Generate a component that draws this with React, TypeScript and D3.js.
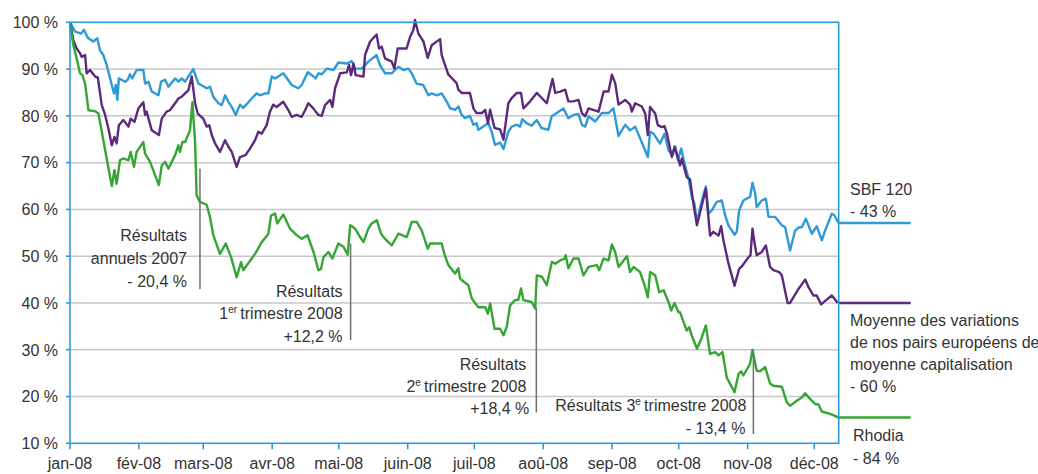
import React from "react";
import * as d3 from "d3";

// ---- data ----
const monthLabels = ["jan-08", "fév-08", "mars-08", "avr-08", "mai-08", "juin-08", "juil-08", "aoû-08", "sep-08", "oct-08", "nov-08", "déc-08"];
const yTickValues = [10, 20, 30, 40, 50, 60, 70, 80, 90, 100];

// days elapsed since 1 Jan 2008
const sbfDays = [0, 2.3, 5, 6.3, 8, 10.5, 12.3, 13.5, 15, 16.5, 18.8, 19.8, 20.6, 21.3, 22, 24.8, 26, 27, 28, 30, 33, 33.8, 35.3, 36.8, 39.8, 41, 42.8, 44.3, 47.3, 48.8, 50.3, 51.8, 55.5, 57.8, 61.5, 63, 64.5, 66.8, 68.3, 69.8, 71.3, 72.8, 74.6, 76.5, 78, 81.8, 84, 85.5, 87.8, 89.3, 90.8, 92.3, 96, 99.8, 102.8, 104.3, 107, 108.8, 110.6, 111.8, 113.3, 115.6, 118.6, 120.8, 124.6, 126.8, 128.3, 131.3, 134.3, 138, 139.5, 141.8, 144.8, 146.3, 147.8, 150.1, 152.3, 153.8, 156, 159, 161.3, 162.8, 165.1, 167.3, 169.6, 171.1, 173.3, 174.8, 176.3, 177.8, 180, 181.6, 183, 183.8, 186, 188.3, 189.8, 191.3, 193.6, 195.1, 197.3, 198.8, 201.1, 202.6, 203.6, 205.6, 207.8, 210.1, 212.3, 215.3, 216.8, 219.1, 222.1, 224.3, 226.6, 228.9, 230.4, 231.9, 233.4, 236.4, 239.4, 242.4, 244.6, 246.9, 249.9, 252.1, 254.4, 257.4, 260.1, 261.1, 262.6, 265.6, 267.6, 269.4, 271.2, 272.4, 273.6, 275.1, 276.6, 278.4, 279.9, 281.1, 282.2, 284.4, 286.2, 287.4, 288.9, 291.1, 293.4, 294.9, 296.4, 299.1, 300.1, 301.2, 303.1, 306.1, 307.2, 308.4, 309.1, 311.4, 313.2, 314.4, 317.4, 320.4, 321.9, 324.1, 326.4, 328.2, 329.4, 331.2, 332.4, 333.9, 336.1, 338.4, 339.9, 342.9, 344.1, 345.9];
const sbfValues = [100, 98, 97.6, 98.4, 96.7, 95.9, 96.6, 94, 93, 90.9, 86.6, 84.8, 86.6, 83.4, 88, 87.3, 87.7, 88.9, 88, 89.8, 89.8, 86.9, 87.3, 85.2, 84.4, 87.3, 87.7, 86.2, 88, 87.3, 88, 87.3, 90, 86.9, 85.9, 86.2, 84.1, 82.7, 82.3, 84.4, 83, 81.9, 80.2, 82.4, 81.7, 83.7, 84.8, 84.4, 84.8, 84.8, 88.4, 88, 89.1, 86.6, 85.9, 86.6, 89.3, 88.7, 88, 89.1, 88.9, 90.1, 89.8, 91.4, 91.2, 91.7, 90.1, 90.1, 91.6, 93, 90.9, 89.1, 89.1, 89.8, 90.5, 89.8, 90.1, 89.1, 86.9, 86.6, 84.4, 84.8, 84.4, 84.8, 83, 81.6, 81.3, 82, 80.2, 79.5, 80, 78.1, 78.4, 77, 77.7, 78.4, 76.6, 73.8, 74.3, 72.9, 76.6, 77.7, 78.1, 77.7, 79.3, 78.4, 77.9, 79.1, 77.4, 77, 79.9, 80.6, 81.6, 79.5, 80.2, 80.4, 78.1, 77.7, 79.9, 78.8, 80.6, 80.6, 81.6, 75.7, 78.1, 76.9, 77.7, 74.3, 71.2, 76.6, 76.2, 74.1, 76.2, 72.6, 71.6, 73.4, 70.5, 73, 69.8, 66.6, 62.7, 61.2, 57.3, 61.9, 64.9, 59.1, 59.8, 61.6, 61.9, 58.7, 56.6, 54.6, 55.2, 59.8, 61.9, 62.7, 65.7, 63.4, 60.5, 61.9, 62.3, 58.4, 58.4, 56.6, 56.2, 51.2, 55.5, 56.2, 56.2, 58, 56.6, 54.8, 56.4, 53.4, 55.5, 59.1, 58.7, 57.1];

const peersDays = [0, 1.5, 3, 4.5, 5.3, 6.8, 7.5, 9, 11.3, 12.5, 14.3, 15.8, 17.3, 18.8, 20, 21, 22, 24, 26.3, 27.3, 29, 30.8, 33, 33.8, 34.5, 36.8, 40, 41.3, 43.5, 45, 47.3, 48.8, 50.3, 53.3, 54.8, 56.3, 57.5, 60, 61.5, 62.7, 63.8, 65.3, 67.5, 69.8, 71.3, 72.8, 75, 76.5, 79, 81, 83.3, 84.8, 86.3, 88.5, 90, 91.5, 93, 96, 98.3, 99.8, 102, 104.3, 105.8, 107.3, 109.5, 111.8, 113.3, 114.8, 117.1, 118.1, 119.3, 121.6, 124.6, 125.6, 126.5, 127.6, 128.6, 132.1, 132.8, 135.1, 138, 139.1, 140.3, 141.8, 144.8, 146, 147.5, 151.5, 153.1, 154.6, 155.3, 156.8, 159.1, 161, 162.8, 166.6, 167.3, 168.8, 170.3, 171.8, 174, 174.8, 176.3, 180, 181.6, 183, 185.4, 186.9, 188.1, 189.1, 191.1, 193.6, 195.1, 197.3, 198.8, 201.1, 203, 204.1, 207.1, 210.1, 214.6, 217.2, 218.4, 220.6, 222.9, 224.3, 226.6, 228.9, 230.4, 231.9, 233.4, 237.9, 240.2, 242.4, 243.9, 245.4, 246.9, 249.9, 252.1, 252.9, 254.4, 257.4, 258.9, 260.1, 261.1, 263.4, 264.6, 266.4, 267.6, 268.7, 270.9, 272.1, 273.6, 274.6, 275.4, 277.6, 279.1, 280.6, 282.2, 284.4, 286.2, 288.1, 289.6, 291.9, 293.1, 294.1, 296.4, 299.1, 301.2, 302.7, 305.4, 306.3, 307.2, 308.4, 309.1, 311.4, 313.2, 315.1, 316.6, 319.2, 320.4, 323, 324.1, 327.9, 330.9, 332.4, 334.6, 336.1, 338.1, 340.6, 342.9, 345.6];
const peersValues = [100, 96.2, 94.4, 93.4, 92.6, 93, 89.1, 89.8, 88.4, 88.2, 82.3, 80.2, 77.3, 73.7, 75.5, 74.1, 78, 79.1, 77.7, 79.4, 78.7, 81.6, 82.9, 80.2, 80.9, 76.9, 75.9, 79.4, 80.9, 81.2, 82.7, 83.7, 84.1, 85.5, 88.4, 82.7, 80.5, 79.4, 77.7, 78, 75.9, 74.1, 72.3, 74.8, 73.4, 72.3, 69.1, 71.2, 71.6, 73, 74.8, 76.6, 76.2, 78, 80.9, 82.4, 81.9, 83, 81.2, 79.8, 80.2, 79.8, 81.2, 82.7, 81.6, 80.2, 80, 82.3, 83.4, 81.9, 85.9, 89.1, 89.3, 90.9, 88.7, 91.2, 88.7, 88.4, 93, 95.9, 97.4, 94.4, 94.8, 92.3, 91.6, 90.1, 94.4, 94.4, 96.9, 98.4, 100.5, 97.6, 95.9, 92.4, 95.1, 96.4, 93, 90.9, 88.8, 88.1, 87, 85.6, 84.9, 84.9, 81.6, 80.6, 80.6, 81.3, 78.4, 81.3, 77.4, 77.1, 74.9, 82.7, 83.8, 84.9, 84.9, 81.6, 83.1, 84.9, 82.7, 87.9, 84.9, 85.2, 85.6, 83.1, 83.1, 83.4, 80.6, 79.9, 81.6, 80.9, 85.2, 85.2, 88.8, 87, 82.4, 83.4, 82.4, 80.9, 82.7, 82, 80.5, 75.9, 81.9, 80.5, 78, 77.6, 77.8, 76.2, 71.2, 73.4, 71.2, 69.4, 70.9, 66.9, 66.4, 61.2, 56.6, 60.9, 64.4, 54.4, 55.2, 54.4, 56.4, 53.4, 48.4, 43.7, 47.3, 48, 49.8, 50.2, 55.9, 52, 50.2, 50.9, 52.3, 47.7, 47, 46.6, 45.9, 40, 40, 43, 45, 43.4, 41.6, 41.6, 39.7, 40.7, 41.6, 40];

const rhodiaDays = [0, 1.5, 3, 4.5, 5.6, 6.8, 8.3, 11.3, 12.8, 14.3, 18.8, 20, 21, 22.5, 24, 26.3, 27.3, 28.8, 30, 33, 33.8, 36, 40, 41.3, 42.8, 44.3, 47.3, 48.8, 49.5, 50.6, 51.8, 54, 55.1, 56.3, 57, 58.5, 61.5, 63, 64.5, 67.5, 70.1, 72.5, 75, 77, 78, 81.8, 83.3, 86.3, 89.3, 90.5, 92.3, 93.3, 96, 99, 102, 104.3, 106.9, 109.6, 111.8, 113, 114.1, 116.3, 118.1, 120.8, 123.1, 125, 126.1, 128.3, 130.6, 132.1, 134.3, 135.8, 138.1, 140, 141.8, 144.8, 147.8, 151.6, 153.8, 156.1, 158.3, 161, 162.1, 167.3, 168.5, 170.3, 173.3, 174.8, 175.6, 176.3, 179.3, 180.9, 183.8, 186.9, 188.1, 189.1, 191.1, 193.6, 195.1, 196.6, 198.1, 200.3, 201.8, 203, 204.1, 207.8, 209.4, 210.1, 212.4, 214.6, 216.9, 218.4, 220.6, 222.6, 223.1, 224.3, 226.6, 228.9, 231.1, 233.4, 237.1, 238.2, 240.2, 242.4, 243.9, 245.4, 246.9, 250.7, 252.1, 253.7, 256.6, 258.5, 260.1, 261.1, 263.4, 265.2, 267.2, 269.4, 270.6, 272.1, 273.9, 274.6, 277.6, 278.7, 279.9, 282.2, 284.1, 286.2, 288.1, 290.4, 291.9, 293.7, 295.6, 297.1, 299.1, 300.9, 302.1, 303.1, 306.1, 307.2, 309.1, 310.6, 312.9, 315.1, 316.6, 320.4, 322.6, 324.1, 327.1, 329.4, 330.9, 333.1, 335.4, 336.9, 338.4, 341.4, 344.1, 345.9];
const rhodiaValues = [100, 95.1, 92.3, 89.1, 88.7, 86.9, 81.2, 81, 80.5, 76.6, 65, 68.4, 65.5, 70.5, 70.9, 70.5, 72.3, 69.1, 72.3, 74.4, 71.9, 70.2, 65.2, 69.4, 70.2, 68.7, 71.6, 73.7, 72.3, 74.4, 74.4, 76.9, 82.9, 74.4, 63, 61.6, 61, 58.4, 54.5, 50.5, 52.7, 49.8, 45.5, 48.7, 47, 49.5, 50.5, 53, 54.8, 58.7, 59.1, 57, 58.9, 55.9, 54.5, 53.7, 54.5, 50.9, 47, 47.3, 49.8, 50.9, 49.5, 52.7, 52, 50.3, 56.6, 55.9, 54.1, 53, 55.9, 57, 57.7, 54.8, 53.7, 52.3, 54.8, 54.1, 57.3, 57.3, 55.5, 51.6, 52.7, 52.7, 50.5, 48.1, 46.3, 47.4, 45.2, 44.9, 43.8, 40.9, 39.1, 39.1, 37.7, 39.9, 34.5, 34.5, 33.1, 34.9, 39.5, 40.6, 40.7, 43.1, 40.6, 40.2, 38.8, 45.9, 45.6, 43.8, 48.8, 48.4, 49.1, 49.5, 50.2, 47.4, 49.5, 49.5, 45.9, 47.7, 48.1, 47, 49.5, 49.1, 52.5, 50.9, 47.7, 50, 46.6, 47.7, 46.6, 44, 41.2, 46.6, 45.9, 42.3, 42.7, 40.2, 38.4, 40, 38, 38, 34.1, 34.8, 33, 30.2, 32.3, 35.2, 29.1, 29.5, 28.8, 29.5, 24.1, 22.7, 20.9, 24.8, 25.4, 24.5, 27, 30, 25.5, 25.4, 26.3, 22.8, 22.3, 22.1, 18.8, 18, 19.1, 19.8, 20.7, 19.5, 18.4, 18.3, 16.8, 16.4, 15.9, 15.5];

// annotations: day, top value, bottom value
const annotationDays = [58.5, 126.3, 209.9, 307.6];
const annotationTops = [68.7, 52.7, 39, 29.8];
const annotationBottoms = [43, 32.1, 16.6, 12];

const SBF_COLOR = "#2e9ad6";
const PEERS_COLOR = "#5b2a7a";
const RHODIA_COLOR = "#35a534";
const TEXT_COLOR = "#333333";
const FONT = "'Liberation Sans', Arial, sans-serif";

const DAY_MS = 86400000;
const START = Date.UTC(2008, 0, 1);
const toDate = (d: number) => new Date(START + d * DAY_MS);

function Sup({ children }: { children: React.ReactNode }) {
  return (
    <>
      <tspan fontSize={10} dy={-6}>{children}</tspan>
      <tspan dy={6}>{"\u2009"}</tspan>
    </>
  );
}

export default function App() {
  const width = 1038;
  const height = 474;
  const left = 70;
  const right = 838.7;
  const top = 22.3;
  const bottom = 443.3;

  const x = d3.scaleUtc().domain([new Date(START), toDate(346)]).range([left, right]);
  const y = d3.scaleLinear().domain([10, 100]).range([bottom, top]);

  const line = d3
    .line<[number, number]>()
    .x((d) => x(toDate(d[0])))
    .y((d) => y(d[1]));

  const series = [
    { days: sbfDays, values: sbfValues, color: SBF_COLOR },
    { days: peersDays, values: peersValues, color: PEERS_COLOR },
    { days: rhodiaDays, values: rhodiaValues, color: RHODIA_COLOR },
  ];

  const months = d3.utcMonth.range(new Date(START), toDate(346));

  const textProps = { fontFamily: FONT, fontSize: 16, fill: TEXT_COLOR };

  const ax = annotationDays.map((d) => x(toDate(d)));

  return (
    <svg width={width} height={height} style={{ position: "absolute", left: 0, top: 0, background: "#fff" }}>
      {/* gridlines */}
      {yTickValues
        .filter((v) => v > 10 && v < 100)
        .map((v) => (
          <line key={"g" + v} x1={left} x2={right} y1={y(v)} y2={y(v)} stroke="#c8c8c8" strokeWidth={1.5} />
        ))}
      {/* series */}
      {series.map((s, i) => (
        <g key={"s" + i}>
          <path
            d={line(s.days.map((d, j) => [d, s.values[j]] as [number, number])) || ""}
            fill="none"
            stroke={s.color}
            strokeWidth={2.4}
            strokeLinejoin="round"
          />
          <line
            x1={right}
            x2={right + 72}
            y1={y(s.values[s.values.length - 1])}
            y2={y(s.values[s.values.length - 1])}
            stroke={s.color}
            strokeWidth={2.4}
          />
        </g>
      ))}
      {/* frame */}
      <rect x={left} y={top} width={right - left} height={bottom - top} fill="none" stroke={SBF_COLOR} strokeWidth={1.6} />
      {/* y ticks */}
      {yTickValues.map((v) => (
        <g key={"y" + v}>
          <line x1={left - 4} x2={left} y1={y(v)} y2={y(v)} stroke={SBF_COLOR} strokeWidth={1.6} />
          <text x={58} y={y(v)} dy="0.36em" textAnchor="end" {...textProps}>
            {v + " %"}
          </text>
        </g>
      ))}
      {/* x ticks */}
      {months.map((m, i) => (
        <g key={"x" + i}>
          <line x1={x(m)} x2={x(m)} y1={bottom} y2={bottom + 6} stroke={SBF_COLOR} strokeWidth={1.6} />
          <text x={x(m)} y={469} textAnchor="middle" {...textProps}>
            {monthLabels[i]}
          </text>
        </g>
      ))}
      {/* annotation lines */}
      {annotationDays.map((d, i) => (
        <line
          key={"a" + i}
          x1={ax[i]}
          x2={ax[i]}
          y1={y(annotationTops[i])}
          y2={y(annotationBottoms[i])}
          stroke="#707070"
          strokeWidth={1.5}
        />
      ))}
      {/* annotation texts */}
      <g {...textProps} textAnchor="end">
        <text x={ax[0] - 13} y={235} dy="0.36em">Résultats</text>
        <text x={ax[0] - 13} y={258} dy="0.36em">annuels 2007</text>
        <text x={ax[0] - 13} y={281} dy="0.36em">- 20,4 %</text>

        <text x={ax[1] - 8} y={291.5} dy="0.36em">Résultats</text>
        <text x={ax[1] - 8} y={313.5} dy="0.36em">
          1<Sup>er</Sup>trimestre 2008
        </text>
        <text x={ax[1] - 8} y={336.5} dy="0.36em">+12,2 %</text>

        <text x={ax[2] - 10} y={364} dy="0.36em">Résultats</text>
        <text x={ax[2] - 10} y={386} dy="0.36em">
          2<Sup>e</Sup>trimestre 2008
        </text>
        <text x={ax[2] - 7} y={408.5} dy="0.36em">+18,4 %</text>

        <text x={ax[3] - 7} y={405} dy="0.36em">
          Résultats 3<Sup>e</Sup>trimestre 2008
        </text>
        <text x={ax[3] - 8} y={428.5} dy="0.36em">- 13,4 %</text>
      </g>
      {/* right labels */}
      <g {...textProps}>
        <text x={850} y={189} dy="0.36em">SBF 120</text>
        <text x={850} y={211.5} dy="0.36em">- 43 %</text>

        <text x={850} y={320} dy="0.36em">Moyenne des variations</text>
        <text x={850} y={342} dy="0.36em">de nos pairs européens de</text>
        <text x={850} y={364} dy="0.36em">moyenne capitalisation</text>
        <text x={850} y={386.5} dy="0.36em">- 60 %</text>

        <text x={853} y={435} dy="0.36em">Rhodia</text>
        <text x={853} y={458} dy="0.36em">- 84 %</text>
      </g>
    </svg>
  );
}
